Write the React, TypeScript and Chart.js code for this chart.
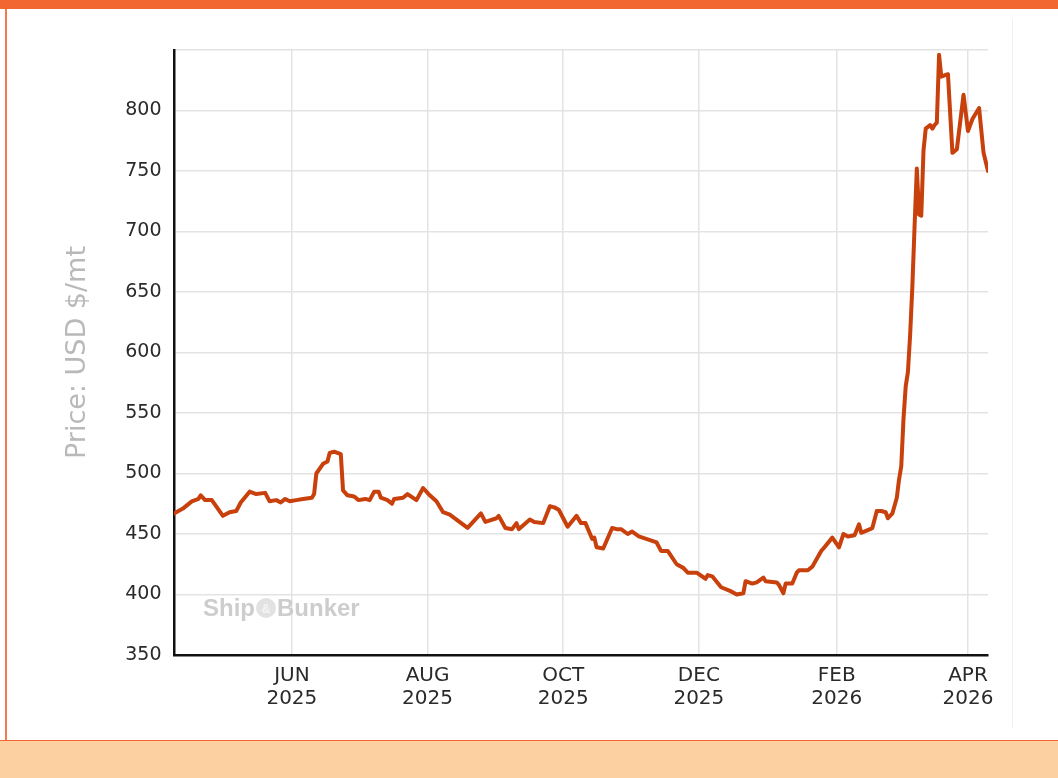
import React, { useEffect, useRef } from 'react';
import { Chart, registerables } from 'chart.js';

Chart.register(...registerables);

// ---- data ----
const dates = [
  '2025-04-09', '2025-04-13', '2025-04-17', '2025-04-20', '2025-04-21', '2025-04-23', '2025-04-26',
  '2025-05-01', '2025-05-04', '2025-05-07', '2025-05-09', '2025-05-13', '2025-05-16', '2025-05-20',
  '2025-05-22', '2025-05-25', '2025-05-27', '2025-05-29', '2025-05-31',
  '2025-06-03', '2025-06-06', '2025-06-10', '2025-06-11', '2025-06-12', '2025-06-15', '2025-06-17',
  '2025-06-18', '2025-06-20', '2025-06-23', '2025-06-24', '2025-06-26', '2025-06-29',
  '2025-07-01', '2025-07-04', '2025-07-06', '2025-07-08', '2025-07-10', '2025-07-11', '2025-07-14',
  '2025-07-16', '2025-07-17', '2025-07-21', '2025-07-23', '2025-07-27', '2025-07-30',
  '2025-08-02', '2025-08-05', '2025-08-08', '2025-08-11', '2025-08-19', '2025-08-25', '2025-08-27',
  '2025-09-01', '2025-09-02', '2025-09-05', '2025-09-08', '2025-09-10', '2025-09-11', '2025-09-16',
  '2025-09-18', '2025-09-22', '2025-09-25', '2025-09-27', '2025-09-29',
  '2025-10-03', '2025-10-07', '2025-10-09', '2025-10-11', '2025-10-14', '2025-10-15', '2025-10-16',
  '2025-10-19', '2025-10-23', '2025-10-25', '2025-10-27', '2025-10-30',
  '2025-11-01', '2025-11-04', '2025-11-09', '2025-11-12', '2025-11-14', '2025-11-17', '2025-11-21',
  '2025-11-24', '2025-11-26', '2025-11-30',
  '2025-12-04', '2025-12-05', '2025-12-07', '2025-12-11', '2025-12-15', '2025-12-17', '2025-12-18',
  '2025-12-21', '2025-12-22', '2025-12-25', '2025-12-27', '2025-12-30', '2025-12-31',
  '2026-01-05', '2026-01-06', '2026-01-08', '2026-01-09', '2026-01-12', '2026-01-14', '2026-01-15',
  '2026-01-19', '2026-01-21', '2026-01-25', '2026-01-26', '2026-01-30',
  '2026-02-02', '2026-02-04', '2026-02-06', '2026-02-09', '2026-02-11', '2026-02-12', '2026-02-16',
  '2026-02-17', '2026-02-19', '2026-02-21', '2026-02-23', '2026-02-24', '2026-02-26', '2026-02-28',
  '2026-03-01', '2026-03-02', '2026-03-03', '2026-03-04', '2026-03-05', '2026-03-06', '2026-03-07',
  '2026-03-08', '2026-03-09', '2026-03-10', '2026-03-11', '2026-03-12', '2026-03-13', '2026-03-15',
  '2026-03-16', '2026-03-17', '2026-03-18', '2026-03-19', '2026-03-20', '2026-03-23', '2026-03-25',
  '2026-03-27', '2026-03-30', '2026-04-01', '2026-04-03', '2026-04-06', '2026-04-08', '2026-04-10',
];

const prices = [
  467, 471, 477, 479, 482, 478, 478,
  465, 468, 469, 476, 485, 483, 484,
  477, 478, 476, 479, 477,
  478, 479, 480, 483, 500, 508, 510,
  517, 518, 516, 486, 482, 481,
  478, 479, 478, 485, 485, 480, 478,
  475, 479, 480, 483, 478, 488,
  482, 477, 468, 466, 455, 467, 460,
  463, 465, 455, 454, 459, 454, 462,
  460, 459, 473, 472, 470,
  456, 465, 459, 459, 446, 447, 439,
  438, 455, 454, 454, 450,
  452, 448, 445, 443, 436, 436, 425,
  422, 418, 418,
  413, 416, 415, 406, 403, 401, 400,
  401, 411, 409, 410, 414, 411,
  410, 408, 401, 409, 409, 418, 420,
  420, 423, 436, 438, 447,
  439, 450, 448, 449, 458, 451, 454,
  455, 469, 469, 468, 463, 467, 480,
  495, 506, 545, 572, 584, 615, 655,
  705, 752, 714, 713, 767, 785, 788,
  785, 788, 790, 846, 828, 830, 765,
  768, 813, 783, 793, 802, 765, 750,
];

const tickDates = ['2025-06-01', '2025-08-01', '2025-10-01', '2025-12-01', '2026-02-01', '2026-04-01'];
const tickMonths = ['JUN', 'AUG', 'OCT', 'DEC', 'FEB', 'APR'];
const tickYears = ['2025', '2025', '2025', '2025', '2026', '2026'];

const xStart = '2025-04-09';
const xEnd = '2026-04-10';
const yMin = 350;
const yMax = 850;
const yStep = 50;
const yTitle = 'Price: USD $/mt';

const wmLeft = 'Ship';
const wmMid = '&';
const wmRight = 'Bunker';

const toMs = (s: string) => Date.parse(s + 'T00:00:00Z');

const watermarkPlugin = {
  id: 'watermark',
  beforeDatasetsDraw(chart: any) {
    const { ctx, chartArea } = chart;
    ctx.save();
    const x0 = chartArea.left + 29;
    const base = chartArea.bottom - 39;
    ctx.font = 'bold 24px "Liberation Sans", Arial, sans-serif';
    ctx.fillStyle = '#cdcdcd';
    ctx.textBaseline = 'alphabetic';
    ctx.textAlign = 'left';
    ctx.fillText(wmLeft, x0, base);
    const w1 = ctx.measureText(wmLeft).width;
    const cx = x0 + w1 + 11;
    const cy = base - 8;
    ctx.beginPath();
    ctx.arc(cx, cy, 10, 0, Math.PI * 2);
    ctx.fillStyle = '#e2e2e2';
    ctx.fill();
    ctx.font = 'bold 13px "Liberation Sans", Arial, sans-serif';
    ctx.fillStyle = '#f4f4f4';
    ctx.textAlign = 'center';
    ctx.textBaseline = 'middle';
    ctx.fillText(wmMid, cx, cy + 1);
    ctx.font = 'bold 24px "Liberation Sans", Arial, sans-serif';
    ctx.fillStyle = '#cdcdcd';
    ctx.textAlign = 'left';
    ctx.textBaseline = 'alphabetic';
    ctx.fillText(wmRight, cx + 11, base);
    ctx.restore();
  },
};

export default function App() {
  const canvasRef = useRef<HTMLCanvasElement | null>(null);

  useEffect(() => {
    const canvas = canvasRef.current;
    if (!canvas) return;
    const tickMs = tickDates.map(toMs);
    const chart = new Chart(canvas, {
      type: 'line',
      data: {
        datasets: [
          {
            data: dates.map((d, i) => ({ x: toMs(d), y: prices[i] })),
            borderColor: '#c8400c',
            borderWidth: 4,
            pointRadius: 0,
            tension: 0,
            fill: false,
            borderJoinStyle: 'round',
            borderCapStyle: 'round',
          },
        ],
      },
      options: {
        animation: false,
        responsive: false,
        devicePixelRatio: 1,
        layout: { padding: { left: 0, right: 70, top: 50, bottom: 0 } },
        plugins: { legend: { display: false }, tooltip: { enabled: false } },
        scales: {
          x: {
            type: 'linear',
            min: toMs(xStart),
            max: toMs(xEnd),
            afterBuildTicks: (s: any) => {
              s.ticks = tickMs.map((v) => ({ value: v }));
            },
            afterFit: (s: any) => {
              s.height = 123;
            },
            grid: { color: '#e3e3e3', lineWidth: 1.5, drawTicks: false },
            border: { display: true, color: '#111111', width: 2.5 },
            ticks: {
              autoSkip: false,
              maxRotation: 0,
              minRotation: 0,
              padding: 9,
              color: '#2a2a2a',
              font: { family: '"DejaVu Sans", sans-serif', size: 20, lineHeight: 1.175 },
              callback: (v: any) => {
                const i = tickMs.indexOf(Number(v));
                return i >= 0 ? [tickMonths[i], tickYears[i]] : '';
              },
            },
          },
          y: {
            type: 'linear',
            min: yMin,
            max: yMax,
            afterFit: (s: any) => {
              s.width = 174;
            },
            grid: { color: '#e3e3e3', lineWidth: 1.5, drawTicks: false },
            border: { display: true, color: '#111111', width: 2.5 },
            ticks: {
              stepSize: yStep,
              padding: 12.5,
              color: '#2a2a2a',
              font: { family: '"DejaVu Sans", sans-serif', size: 19 },
              callback: (v: any) => (Number(v) === yMax ? '' : String(v)),
            },
            title: {
              display: true,
              text: yTitle,
              color: '#b9b9b9',
              font: { family: '"DejaVu Sans", sans-serif', size: 27 },
              padding: { top: 62, bottom: 0 },
            },
          },
        },
      },
      plugins: [watermarkPlugin],
    } as any);
    return () => chart.destroy();
  }, []);

  return (
    <div
      style={{
        position: 'fixed',
        left: 0,
        top: 0,
        width: 1058,
        height: 778,
        background: '#ffffff',
        overflow: 'hidden',
      }}
    >
      <div style={{ position: 'absolute', left: 0, top: 0, width: 1058, height: 9, background: '#f26631' }} />
      <div style={{ position: 'absolute', left: 5, top: 9, width: 2, height: 731, background: '#f47c4c' }} />
      <div style={{ position: 'absolute', left: 1012, top: 19, width: 1, height: 709, background: '#efefef' }} />
      <div style={{ position: 'absolute', left: 0, top: 740, width: 1058, height: 38, background: '#fdd0a2', borderTop: '1px solid #f26631', boxSizing: 'border-box' }} />
      <canvas
        ref={canvasRef}
        width={1058}
        height={778}
        style={{ position: 'absolute', left: 0, top: 0, width: 1058, height: 778 }}
      />
    </div>
  );
}
